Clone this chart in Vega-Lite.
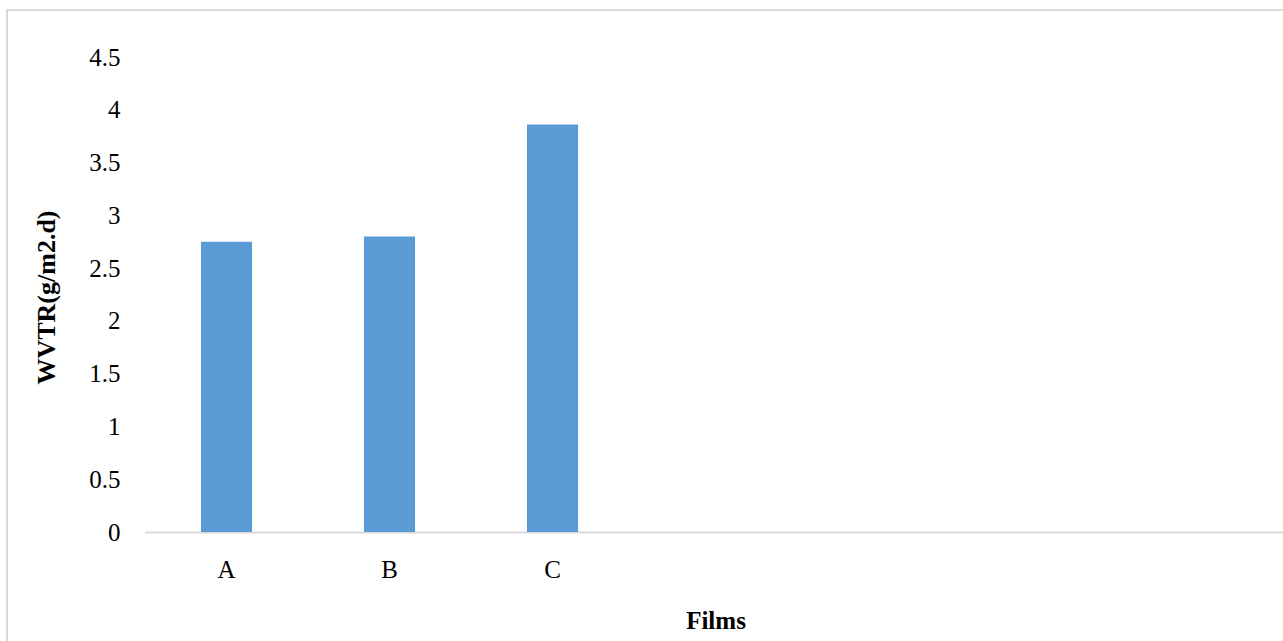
{
  "$schema": "https://vega.github.io/schema/vega-lite/v6.json",
  "autosize": {"type": "none"},
  "padding": {"left": 7, "top": 10, "right": 0, "bottom": 0},
  "width": 1290,
  "height": 640,
  "background": "white",
  "data": {
    "values": [
      {"film": "A", "wvtr": 2.75},
      {"film": "B", "wvtr": 2.8},
      {"film": "C", "wvtr": 3.86}
    ]
  },
  "mark": {"type": "bar", "color": "#5B9BD5"},
  "encoding": {
    "x": {
      "field": "film",
      "type": "nominal",
      "sort": null,
      "scale": {
        "domain": ["A", "B", "C", " ", "  ", "   ", "    "],
        "range": [138, 1279],
        "paddingInner": 0.6865,
        "paddingOuter": 0.3433
      },
      "axis": {
        "title": "Films",
        "orient": "bottom",
        "offset": -118,
        "labelAngle": 0,
        "ticks": false,
        "domainColor": "#d9d9d9",
        "domainWidth": 2,
        "labelPadding": 25,
        "labelFontSize": 25,
        "labelColor": "#000000",
        "titleFontSize": 25,
        "titleFontWeight": "bold",
        "titleColor": "#000000",
        "titleY": 88,
        "titleBaseline": "middle"
      }
    },
    "y": {
      "field": "wvtr",
      "type": "quantitative",
      "scale": {"domain": [0, 4.5], "range": [522, 47], "nice": false},
      "axis": {
        "title": "WVTR(g/m2.d)",
        "orient": "left",
        "offset": -113,
        "values": [0, 0.5, 1, 1.5, 2, 2.5, 3, 3.5, 4, 4.5],
        "labelExpr": "datum.value",
        "grid": false,
        "domain": false,
        "ticks": false,
        "labelPadding": 0,
        "labelFontSize": 25,
        "labelColor": "#000000",
        "titleFontSize": 26,
        "titleFontWeight": "bold",
        "titleColor": "#000000",
        "titleAngle": -90,
        "titleX": -74,
        "titleY": 287,
        "titleAlign": "center",
        "titleBaseline": "middle"
      }
    }
  },
  "config": {
    "font": "Liberation Serif",
    "view": {"stroke": "#d9d9d9", "strokeWidth": 2}
  }
}
